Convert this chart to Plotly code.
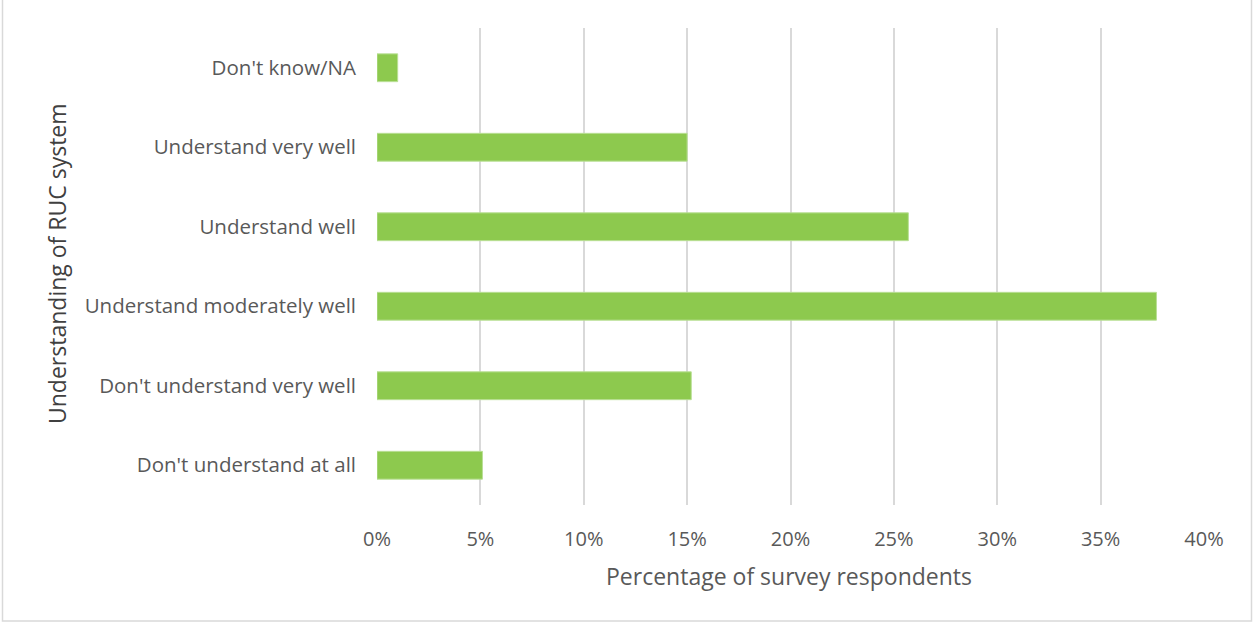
import plotly.graph_objects as go

# Survey responses: understanding of the RUC system
categories = [
    "Don't understand at all",
    "Don't understand very well",
    "Understand moderately well",
    "Understand well",
    "Understand very well",
    "Don't know/NA",
]
percent = [5.1, 15.2, 37.7, 25.7, 15.0, 1.0]
tick_values = [0, 5, 10, 15, 20, 25, 30, 35, 40]
tick_labels = [f"{v}%" for v in tick_values]

W, H = 1253, 623
L, R, T, B = 377, 49, 28, 118
pw, ph = W - L - R, H - T - B

def px_x(p):
    return (p - L) / pw

def px_y(q):
    return (H - B - q) / ph

FONT = "Open Sans"
GREY = "#595959"

fig = go.Figure(
    go.Bar(
        x=percent,
        y=categories,
        orientation="h",
        marker=dict(color="#8DC94E", line=dict(color="#B9DF95", width=1)),
        hoverinfo="x+y",
    )
)

fig.update_layout(
    width=W,
    height=H,
    margin=dict(l=L, r=R, t=T, b=B),
    paper_bgcolor="white",
    plot_bgcolor="white",
    bargap=0.65,
    showlegend=False,
    font=dict(family=FONT, size=20, color=GREY),
    xaxis=dict(
        range=[0, 40],
        tickvals=tick_values,
        ticktext=tick_labels,
        showgrid=True,
        gridcolor="#D9D9D9",
        gridwidth=2,
        zeroline=False,
        showline=False,
        ticks="",
        ticklabelstandoff=20,
        tickfont=dict(family=FONT, size=20, color=GREY),
        fixedrange=True,
    ),
    yaxis=dict(
        categoryorder="array",
        categoryarray=categories,
        showgrid=False,
        zeroline=False,
        showline=False,
        ticks="",
        ticklabelstandoff=20,
        tickfont=dict(family=FONT, size=20.5, color=GREY),
        fixedrange=True,
    ),
    annotations=[
        dict(
            text="Percentage of survey respondents",
            xref="paper", yref="paper",
            x=px_x(789), y=px_y(576),
            xanchor="center", yanchor="middle",
            showarrow=False,
            font=dict(family=FONT, size=23, color=GREY),
        ),
        dict(
            text="Understanding of RUC system",
            xref="paper", yref="paper",
            x=px_x(57), y=px_y(264),
            xanchor="center", yanchor="middle",
            textangle=-90,
            showarrow=False,
            font=dict(family=FONT, size=23, color="#404040"),
        ),
    ],
    shapes=[
        dict(
            type="rect",
            xref="paper", yref="paper",
            x0=px_x(2.5), x1=px_x(1251.5),
            y0=px_y(621), y1=px_y(-2),
            line=dict(color="#D9D9D9", width=1.5),
            fillcolor="rgba(0,0,0,0)",
            layer="below",
        )
    ],
)

fig.write_html("out.html")
